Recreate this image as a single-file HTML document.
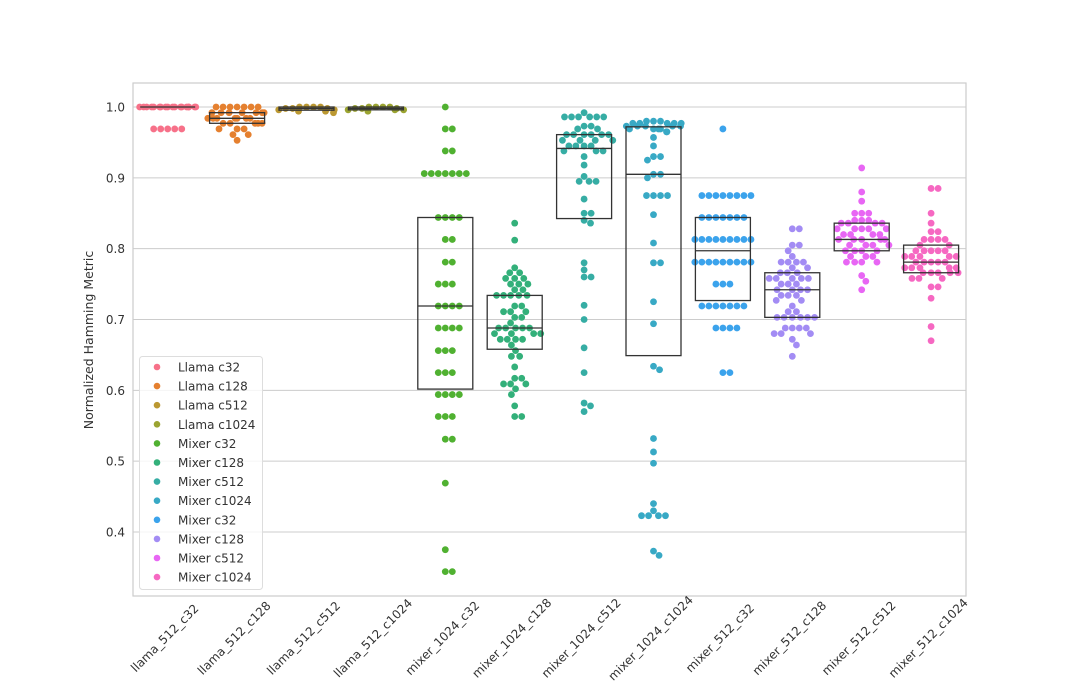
<!DOCTYPE html>
<html><head><meta charset="utf-8"><style>
html,body{margin:0;padding:0;background:#fff;}
svg{display:block;font-family:"DejaVu Sans","Liberation Sans",sans-serif;}
</style></head><body>
<svg id="chart" width="1065" height="700"></svg>
<script>
const categories=["llama_512_c32","llama_512_c128","llama_512_c512","llama_512_c1024","mixer_1024_c32","mixer_1024_c128","mixer_1024_c512","mixer_1024_c1024","mixer_512_c32","mixer_512_c128","mixer_512_c512","mixer_512_c1024"];
const legendLabels=["Llama c32","Llama c128","Llama c512","Llama c1024","Mixer c32","Mixer c128","Mixer c512","Mixer c1024","Mixer c32","Mixer c128","Mixer c512","Mixer c1024"];
const colors=['#f77189','#e5802f','#bb9832','#9ba431','#50b131','#33b07a','#36ada4','#38a9c5','#3ba3ec','#a38cf4','#e866f4','#f668c2'];
const yTicks=[0.4,0.5,0.6,0.7,0.8,0.9,1.0];
// value groups: [value, count]
const s0=[[1.0,18],[0.969,5]];
const s1=[[1.0,7],[0.992,7],[0.984,7],[0.977,5],[0.969,3],[0.961,2],[0.953,1]];
const s2=[[1.0,4],[0.998,3],[0.996,2],[0.994,2],[0.992,1]];
const s3=[[1.0,4],[0.998,3],[0.996,3],[0.994,1]];
const s4=[[1.0,1],[0.969,2],[0.938,2],[0.906,7],[0.844,4],[0.813,2],[0.781,2],[0.75,3],[0.719,4],[0.688,4],[0.656,3],[0.625,3],[0.594,4],[0.563,3],[0.531,2],[0.469,1],[0.375,1],[0.344,2]];
const s5=[[0.836,1],[0.812,1],[0.773,1],[0.766,2],[0.758,3],[0.75,3],[0.742,2],[0.734,5],[0.719,2],[0.711,3],[0.703,2],[0.695,1],[0.688,5],[0.68,4],[0.672,4],[0.664,1],[0.656,1],[0.648,2],[0.633,1],[0.617,2],[0.609,3],[0.602,1],[0.594,1],[0.578,1],[0.563,2]];
const s6=[[0.992,1],[0.986,6],[0.973,2],[0.969,2],[0.961,6],[0.953,4],[0.945,4],[0.938,3],[0.93,1],[0.918,1],[0.902,1],[0.895,3],[0.87,1],[0.85,2],[0.84,1],[0.836,1],[0.78,1],[0.77,1],[0.76,2],[0.72,1],[0.70,1],[0.66,1],[0.625,1],[0.582,1],[0.578,1],[0.57,1]];
const s7=[[0.98,3],[0.977,5],[0.973,5],[0.969,4],[0.965,2],[0.957,1],[0.945,1],[0.93,2],[0.925,1],[0.905,2],[0.90,1],[0.875,4],[0.848,1],[0.808,1],[0.78,2],[0.725,1],[0.694,1],[0.634,1],[0.629,1],[0.532,1],[0.513,1],[0.497,1],[0.44,1],[0.43,1],[0.423,4],[0.373,1],[0.367,1]];
const s8=[[0.969,1],[0.875,8],[0.844,7],[0.813,9],[0.781,9],[0.75,3],[0.719,7],[0.688,4],[0.625,2]];
const s9=[[0.828,2],[0.805,2],[0.797,1],[0.789,1],[0.781,4],[0.773,2],[0.766,3],[0.758,5],[0.75,3],[0.742,4],[0.734,3],[0.727,2],[0.719,1],[0.711,2],[0.703,6],[0.688,4],[0.68,3],[0.672,1],[0.664,1],[0.648,1]];
const s10=[[0.914,1],[0.88,1],[0.867,1],[0.85,3],[0.84,3],[0.836,4],[0.828,5],[0.82,4],[0.813,5],[0.805,4],[0.797,4],[0.789,3],[0.781,4],[0.762,1],[0.754,1],[0.742,1]];
const s11=[[0.885,2],[0.85,1],[0.836,1],[0.824,2],[0.813,4],[0.805,2],[0.797,5],[0.789,5],[0.781,5],[0.773,5],[0.766,5],[0.758,3],[0.746,2],[0.73,1],[0.69,1],[0.67,1]];
const series=[s0,s1,s2,s3,s4,s5,s6,s7,s8,s9,s10,s11];

const NS="http://www.w3.org/2000/svg";
const svg=document.getElementById('chart');
const L=133,R=966,T=83,B=596;
function yScale(v){return 107+(1-v)*708.3;}
function xScale(i){return 167.7+i*69.4;}
function mk(tag,attrs,parent){const e=document.createElementNS(NS,tag);for(const k in attrs)e.setAttribute(k,attrs[k]);(parent||svg).appendChild(e);return e;}
function quant(a,q){const s=[...a].sort((x,y)=>x-y);const p=(s.length-1)*q;const lo=Math.floor(p),hi=Math.ceil(p);return s[lo]+(s[hi]-s[lo])*(p-lo);}

yTicks.forEach(t=>{
  const y=yScale(t);
  const g=mk('line',{x1:L,x2:R,y1:y,y2:y,stroke:'#cccccc','stroke-width':1});
  
  
  const tl=mk('text',{x:L-8,y:y+4.5,'text-anchor':'end','font-size':12,fill:'#333'});
  tl.textContent=t.toFixed(1);
  
  
});
const fr=mk('rect',{x:L,y:T,width:R-L,height:B-T,fill:'none',stroke:'#cccccc','stroke-width':1.2});



const D=7.0,r=3.4,LIM=30;
series.forEach((grp,i)=>{
  const vals=[];grp.forEach(([v,c])=>{for(let k=0;k<c;k++)vals.push(v);});
  const cx=xScale(i);
  const pts=vals.map(v=>yScale(v)).sort((a,b)=>a-b);
  const placed=[];
  let over=0;
  pts.forEach(y=>{
    const near=placed.filter(p=>Math.abs(p.y-y)<D);
    const cands=[0];
    near.forEach(p=>{const dy=y-p.y;const dx=Math.sqrt(Math.max(0,D*D-dy*dy));cands.push(p.x+dx+0.01,p.x-dx-0.01);});
    cands.sort((a,b)=>Math.abs(a)-Math.abs(b));
    let ox=null;
    for(const c of cands){if(Math.abs(c)<=LIM && near.every(p=>(p.x-c)**2+(p.y-y)**2>=D*D-0.05)){ox=c;break;}}
    if(ox===null){over++;ox=(over%2?1:-1)*(LIM-((over*11)%LIM));}
    placed.push({x:ox,y:y});
  });
  placed.forEach(p=>{
    const c=mk('circle',{cx:cx+p.x,cy:p.y,r:r,fill:colors[i]});
    
    
  });
  const q1=quant(vals,0.25),md=quant(vals,0.5),q3=quant(vals,0.75);
  const bw=55;
  const bx=mk('rect',{x:cx-bw/2,y:yScale(q3),width:bw,height:Math.max(0,yScale(q1)-yScale(q3)),fill:'none',stroke:'#333','stroke-width':1.3});
  
  
  const ml=mk('line',{x1:cx-bw/2,x2:cx+bw/2,y1:yScale(md),y2:yScale(md),stroke:'#333','stroke-width':1.3});
  
  
  const xt=mk('text',{x:0,y:0,'text-anchor':'middle','font-size':12,fill:'#333',transform:`translate(${cx},${B+45}) rotate(-45)`});
  xt.textContent=categories[i];
  
  
});

const yl=mk('text',{x:0,y:0,'text-anchor':'middle','font-size':12.5,fill:'#333',transform:'translate(93,340) rotate(-90)'});
yl.textContent='Normalized Hamming Metric';



const lg=mk('g',{});


mk('rect',{x:139.5,y:356.5,width:123,height:233,rx:3,fill:'rgba(255,255,255,0.8)',stroke:'#dddddd'},lg);
legendLabels.forEach((lab,i)=>{
  const y=367+i*19.1;
  const e=mk('g',{},lg);
  
  
  mk('circle',{cx:157,cy:y,r:3.3,fill:colors[i]},e);
  const t=mk('text',{x:178,y:y+4.5,'font-size':12,fill:'#333'},e);
  t.textContent=lab;
});
</script>
</body></html>
